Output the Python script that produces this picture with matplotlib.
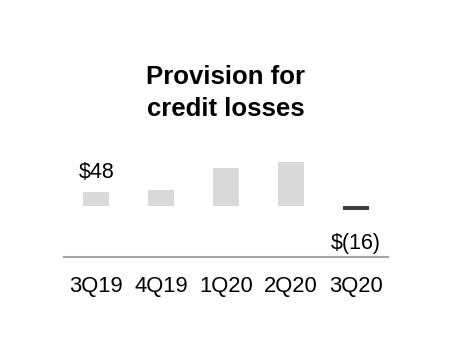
import matplotlib.pyplot as plt

quarters = ['3Q19', '4Q19', '1Q20', '2Q20', '3Q20']
provision = [48, 55, 133, 155, -16]
labels = {0: '$48', 4: '$(16)'}

plt.rcParams['font.family'] = ['Liberation Sans', 'DejaVu Sans']

fig = plt.figure(figsize=(4.52, 3.6), dpi=100)
ax = fig.add_axes([64 / 452, 103 / 360, 324 / 452, 127 / 360])

colors = ['#d9d9d9' if v >= 0 else '#404040' for v in provision]
x = range(len(quarters))
ax.bar(x, provision, width=0.4, color=colors)

for i, txt in labels.items():
    v = provision[i]
    off = 14.4 if v >= 0 else -24
    ax.annotate(txt, (i, v), xytext=(0, off), textcoords='offset points',
                ha='center', va='center', fontsize=15.5)

ax.set_xlim(-0.5, 4.5)
ax.set_ylim(-183, 269)
ax.set_xticks(list(x))
ax.set_xticklabels(quarters, fontsize=15.8)
ax.tick_params(axis='x', length=0, pad=14)
ax.set_yticks([])
for s in ['top', 'left', 'right']:
    ax.spines[s].set_visible(False)
ax.spines['bottom'].set_color('#a6a6a6')
ax.spines['bottom'].set_linewidth(1.5)

fig.text(226 / 452, 1 - 93 / 360, 'Provision for\ncredit losses', ha='center', va='center',
         fontsize=18.5, fontweight='bold', linespacing=1.42)

fig.savefig('out.png', dpi=100)
